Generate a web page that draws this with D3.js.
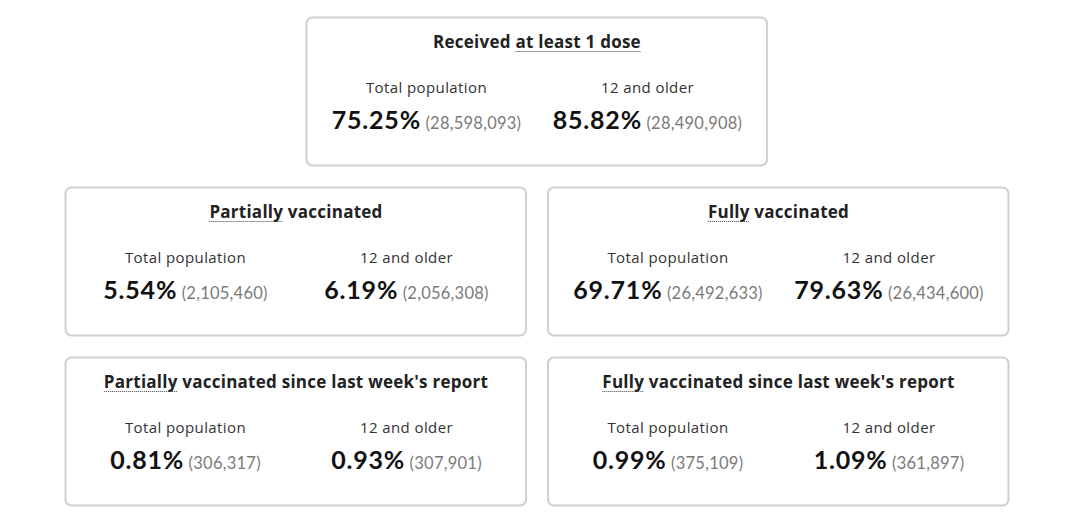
<!DOCTYPE html>
<html>
<head>
<meta charset="utf-8">
<script src="https://cdn.jsdelivr.net/npm/d3@7"></script>
<style>
  body { margin: 0; background: #fff; }
  svg { display: block; }
</style>
</head>
<body>
<div id="chart"></div>
<script>
// card data
var cardTitles = ["Received at least 1 dose", "Partially vaccinated", "Fully vaccinated",
    "Partially vaccinated since last week's report", "Fully vaccinated since last week's report"];
// part of the title with the dotted underline: [start, end] char index
var underlined = [[9, 24], [0, 9], [0, 5], [0, 9], [0, 5]];
var groupLabels = ["Total population", "12 and older"];
var totalPct = ["75.25%", "5.54%", "69.71%", "0.81%", "0.99%"];
var totalCount = ["(28,598,093)", "(2,105,460)", "(26,492,633)", "(306,317)", "(375,109)"];
var olderPct = ["85.82%", "6.19%", "79.63%", "0.93%", "1.09%"];
var olderCount = ["(28,490,908)", "(2,056,308)", "(26,434,600)", "(307,901)", "(361,897)"];

var width = 1080, height = 528;
var cardW = 462, cardH = 149;

var svg = d3.select("#chart").append("svg")
    .attr("width", width)
    .attr("height", height);

// grid: 2 columns, 3 rows; first card sits alone in the middle of row 0
var xCol = d3.scaleBand().domain([0, 1]).range([65, 1009]).paddingInner(21 / 483);
var yRow = d3.scaleBand().domain([0, 1, 2]).range([17, 506]).paddingInner(21 / 170);

function cardPos(i) {
    if (i === 0) return { x: (xCol(0) + xCol(1) + xCol.bandwidth()) / 2 - cardW / 2, y: yRow(0) };
    var r = Math.floor((i - 1) / 2) + 1;
    var c = (i - 1) % 2;
    return { x: xCol(c), y: yRow(r) };
}

var inner = d3.scaleBand().domain(groupLabels).range([10, cardW - 10]);

var cards = svg.selectAll(".card")
    .data(cardTitles)
    .enter().append("g")
    .attr("class", "card")
    .attr("transform", function (d, i) {
        var p = cardPos(i);
        return "translate(" + p.x + "," + p.y + ")";
    });

cards.append("rect")
    .attr("x", 0.5).attr("y", 0.5)
    .attr("width", xCol.bandwidth() - 1)
    .attr("height", yRow.bandwidth() - 1)
    .attr("rx", 6)
    .attr("fill", "#fff")
    .attr("stroke", "#cfcfcf")
    .attr("stroke-width", 2);

// titles
var titles = cards.append("text")
    .attr("class", "title")
    .attr("x", cardW / 2)
    .attr("y", 31)
    .attr("text-anchor", "middle")
    .style("font-family", "'Open Sans', sans-serif")
    .style("font-weight", 700)
    .style("font-size", "17px")
    .style("letter-spacing", "0.25px")
    .attr("fill", "#222")
    .text(function (d) { return d; });

// dotted underline under the highlighted words
titles.each(function (d, i) {
    var node = this;
    var total = node.getComputedTextLength();
    var u = underlined[i];
    var x0 = cardW / 2 - total / 2 + (u[0] > 0 ? node.getSubStringLength(0, u[0]) : 0);
    var w = node.getSubStringLength(u[0], u[1] - u[0]);
    d3.select(node.parentNode).append("line")
        .attr("x1", x0).attr("x2", x0 + w)
        .attr("y1", 34.5).attr("y2", 34.5)
        .attr("stroke", "#444")
        .attr("stroke-width", 1)
        .attr("stroke-dasharray", "1,1");
});

// the two columns
groupLabels.forEach(function (lab, k) {
    var cx = inner(lab) + inner.bandwidth() / 2;
    cards.append("text")
        .attr("x", cx)
        .attr("y", 76)
        .attr("text-anchor", "middle")
        .style("font-family", "'Open Sans', sans-serif")
        .style("font-size", "15px")
        .style("letter-spacing", "0.4px")
        .attr("fill", "#333")
        .text(lab);

    var v = cards.append("text")
        .attr("x", cx)
        .attr("y", 112)
        .attr("text-anchor", "middle")
        .style("font-family", "Lato, sans-serif");
    v.append("tspan")
        .style("font-size", "25px")
        .style("font-weight", 700)
        .style("letter-spacing", "0.8px")
        .attr("fill", "#111")
        .text(function (d, i) { return (k === 0 ? totalPct : olderPct)[i]; });
    v.append("tspan")
        .style("font-size", "16.5px")
        .style("letter-spacing", "0.25px")
        .attr("fill", "#7a7a7a")
        .text(function (d, i) { return " " + (k === 0 ? totalCount : olderCount)[i]; });
});
</script>
</body>
</html>
